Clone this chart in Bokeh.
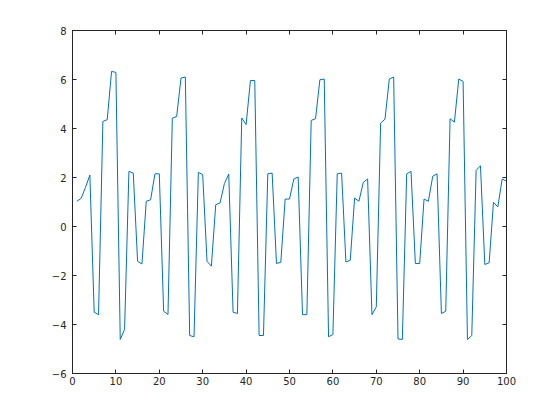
from bokeh.plotting import figure
from bokeh.models import LinearAxis, Range1d, FixedTicker
from bokeh.embed import file_html
from bokeh.resources import INLINE

x_values = list(range(1, 101))
y_values = [
    1.03, 1.15, 1.6, 2.1, -3.5, -3.6, 4.29, 4.36, 6.33, 6.29,
    -4.61, -4.2, 2.25, 2.18, -1.42, -1.53, 1.03, 1.09, 2.15, 2.15,
    -3.46, -3.59, 4.42, 4.49, 6.06, 6.1, -4.45, -4.5, 2.21, 2.12,
    -1.42, -1.62, 0.89, 0.96, 1.75, 2.14, -3.5, -3.55, 4.43, 4.16,
    5.96, 5.96, -4.45, -4.45, 2.15, 2.18, -1.51, -1.46, 1.12, 1.12,
    1.94, 2.02, -3.6, -3.6, 4.33, 4.4, 5.99, 6.02, -4.5, -4.41,
    2.15, 2.18, -1.45, -1.38, 1.16, 1.03, 1.8, 1.94, -3.6, -3.28,
    4.22, 4.38, 6.02, 6.1, -4.59, -4.61, 2.15, 2.25, -1.51, -1.51,
    1.12, 1.03, 2.05, 2.15, -3.55, -3.46, 4.4, 4.26, 6.02, 5.92,
    -4.61, -4.45, 2.29, 2.48, -1.55, -1.48, 0.99, 0.8, 1.94, 1.85,
]
x_ticks = list(range(0, 101, 10))
y_ticks = list(range(-6, 9, 2))

axis_color = "#262626"
font = "DejaVu Sans"

p = figure(width=544, height=404, output_backend="svg", toolbar_location=None,
           x_range=Range1d(0, 100), y_range=Range1d(-6, 8),
           min_border_left=72, min_border_right=38, min_border_top=30, min_border_bottom=31,
           x_axis_type=None, y_axis_type=None)
p.grid.visible = False
p.outline_line_color = axis_color
p.background_fill_color = "white"
p.border_fill_color = "white"

p.line(x_values, y_values, line_color="#0072BD", line_width=1)

def style(ax, labels=True):
    ax.axis_line_color = axis_color
    ax.major_tick_line_color = axis_color
    ax.major_tick_in = 4
    ax.major_tick_out = 0
    ax.minor_tick_line_color = None
    ax.major_label_text_font = font
    ax.major_label_text_font_size = "10px"
    ax.major_label_text_color = axis_color
    if not labels:
        ax.major_label_text_color = None
        ax.major_label_text_font_size = "0px"

bx = LinearAxis(ticker=FixedTicker(ticks=x_ticks))
style(bx)
bx.major_label_standoff = 3
p.add_layout(bx, "below")
tx = LinearAxis(ticker=FixedTicker(ticks=x_ticks))
style(tx, labels=False)
p.add_layout(tx, "above")
ly = LinearAxis(ticker=FixedTicker(ticks=y_ticks))
style(ly)
ly.major_label_standoff = 6
p.add_layout(ly, "left")
ry = LinearAxis(ticker=FixedTicker(ticks=y_ticks))
style(ry, labels=False)
p.add_layout(ry, "right")

open("out.html", "w").write(file_html(p, INLINE))
